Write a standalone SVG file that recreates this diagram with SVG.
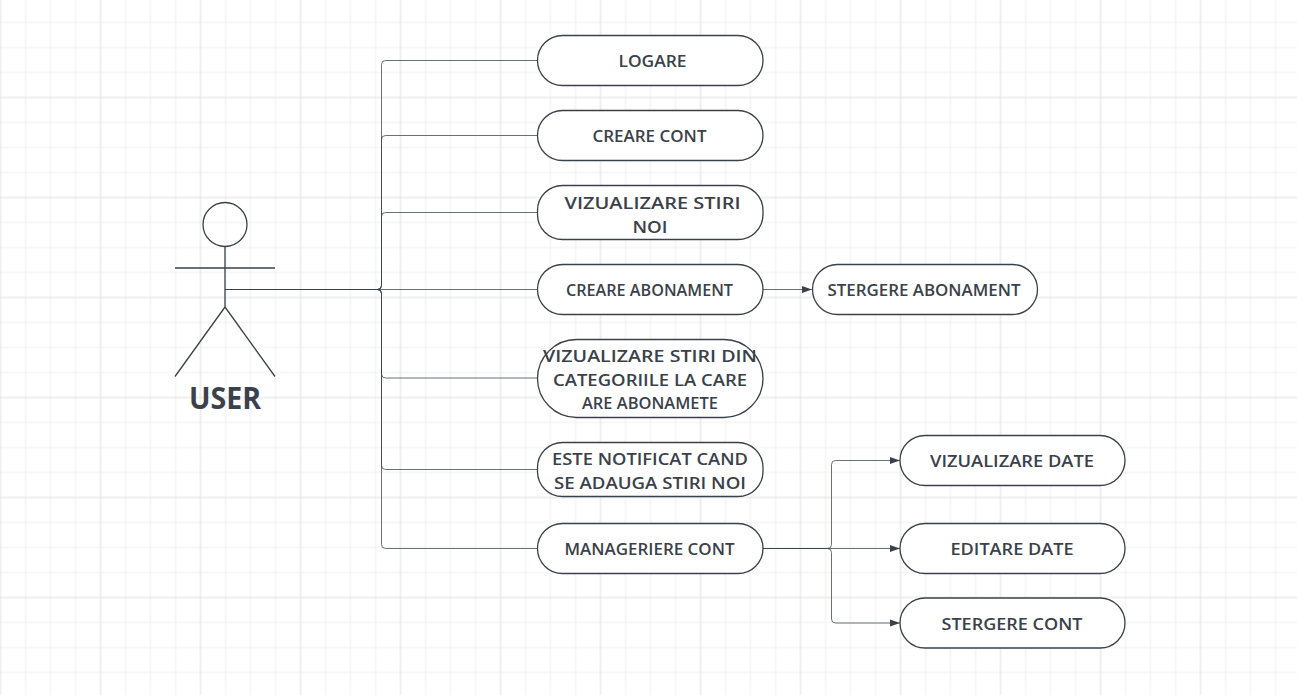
<svg xmlns="http://www.w3.org/2000/svg" width="1297" height="695" viewBox="0 0 1297 695">
<style>
.n{fill:#fff;stroke:#3a414a;stroke-width:1.3}
.c{fill:none;stroke:#3a414a;stroke-width:1;stroke-opacity:.75}
.t{font-family:"Open Sans","Liberation Sans",sans-serif;font-size:16.5px;font-weight:600;fill:#3a414a;text-anchor:middle}
.a{fill:none;stroke:#3a414a;stroke-width:1.3}
</style>
<defs>
<pattern id="g" width="100" height="100" x="40.500" y="37.500" patternUnits="userSpaceOnUse">
<path d="M10 0V100M35 0V100M85 0V100M0 10H100M0 35H100M0 85H100" fill="none" stroke="#efefef" stroke-width="1"/>
<path d="M60 0V100M0 60H100" fill="none" stroke="#dedede" stroke-width="1"/>
</pattern>
<marker id="m" markerWidth="10" markerHeight="8" refX="10" refY="4" orient="auto" markerUnits="userSpaceOnUse"><path d="M0 .5L10 4L0 7.500Z" fill="#3a414a"/></marker>
</defs>
<rect width="1297" height="695" fill="#fff"/>
<rect width="1297" height="695" fill="url(#g)"/>
<g id="connectors">
<path class="c" d="M225 289.500H377.500Q381.500 289.500 381.500 285.500V64.500Q381.500 60.500 385.500 60.500H537.500"/>
<path class="c" d="M225 289.500H377.500Q381.500 289.500 381.500 285.500V139.500Q381.500 135.500 385.500 135.500H537.500"/>
<path class="c" d="M225 289.500H377.500Q381.500 289.500 381.500 285.500V216.500Q381.500 212.500 385.500 212.500H537.500"/>
<path class="c" d="M225 289.500H537.500"/>
<path class="c" d="M225 289.500H377.500Q381.500 289.500 381.500 293.500V374Q381.500 378 385.500 378H537.500"/>
<path class="c" d="M225 289.500H377.500Q381.500 289.500 381.500 293.500V465.500Q381.500 469.500 385.500 469.500H537.500"/>
<path class="c" d="M225 289.500H377.500Q381.500 289.500 381.500 293.500V544.500Q381.500 548.500 385.500 548.500H537.500"/>
<path class="c" d="M763 289.500H812" marker-end="url(#m)"/>
<path class="c" d="M763 548.500H827.500Q831.500 548.500 831.500 544.500V464.500Q831.500 460.500 835.500 460.500H900" marker-end="url(#m)"/>
<path class="c" d="M763 548.500H900" marker-end="url(#m)"/>
<path class="c" d="M763 548.500H827.500Q831.500 548.500 831.500 552.500V619Q831.500 623 835.500 623H900" marker-end="url(#m)"/>
</g>
<g id="actor-user">
<circle class="a" cx="225" cy="224.500" r="22"/>
<path class="a" d="M225 246.500V307M175 268H275M225 307L175 376.500M225 307L275 376.500"/>
<text x="225" y="409" style="font-family:'Open Sans','Liberation Sans',sans-serif;font-size:30px;font-weight:700;fill:#3a414a;text-anchor:middle" textLength="72" lengthAdjust="spacingAndGlyphs">USER</text>
</g>
<g id="node-logare"><rect class="n" x="537.500" y="35.500" width="225.500" height="50" rx="25"/><text class="t" x="652.500" y="67" textLength="68" lengthAdjust="spacingAndGlyphs">LOGARE</text></g>
<g id="node-creare-cont"><rect class="n" x="537.500" y="110.500" width="225.500" height="50" rx="25"/><text class="t" x="649.500" y="142" textLength="114" lengthAdjust="spacingAndGlyphs">CREARE CONT</text></g>
<g id="node-vizualizare-stiri-noi"><rect class="n" x="537.500" y="185.500" width="225.500" height="54" rx="25"/><text class="t" x="652.500" y="209" textLength="176" lengthAdjust="spacingAndGlyphs">VIZUALIZARE STIRI</text><text class="t" x="650" y="233" textLength="35" lengthAdjust="spacingAndGlyphs">NOI</text></g>
<g id="node-creare-abonament"><rect class="n" x="537.500" y="264.500" width="225.500" height="50" rx="25"/><text class="t" x="649.500" y="296" textLength="167" lengthAdjust="spacingAndGlyphs">CREARE ABONAMENT</text></g>
<g id="node-stergere-abonament"><rect class="n" x="812.500" y="264.500" width="225" height="50" rx="25"/><text class="t" x="924" y="296" textLength="193" lengthAdjust="spacingAndGlyphs">STERGERE ABONAMENT</text></g>
<g id="node-vizualizare-stiri-din"><rect class="n" x="537.500" y="339.500" width="225.500" height="78" rx="39"/><text class="t" x="650" y="362" textLength="214" lengthAdjust="spacingAndGlyphs">VIZUALIZARE STIRI DIN</text><text class="t" x="650" y="386" textLength="194" lengthAdjust="spacingAndGlyphs">CATEGORIILE LA CARE</text><text class="t" x="650" y="409" textLength="136" lengthAdjust="spacingAndGlyphs">ARE ABONAMETE</text></g>
<g id="node-este-notificat"><rect class="n" x="537.500" y="442.500" width="225.500" height="54" rx="25"/><text class="t" x="650" y="465" textLength="196" lengthAdjust="spacingAndGlyphs">ESTE NOTIFICAT CAND</text><text class="t" x="650" y="489" textLength="192" lengthAdjust="spacingAndGlyphs">SE ADAUGA STIRI NOI</text></g>
<g id="node-manageriere-cont"><rect class="n" x="537.500" y="523.500" width="225.500" height="50" rx="25"/><text class="t" x="649.500" y="555" textLength="170" lengthAdjust="spacingAndGlyphs">MANAGERIERE CONT</text></g>
<g id="node-vizualizare-date"><rect class="n" x="900" y="435.500" width="225" height="50" rx="25"/><text class="t" x="1012" y="467" textLength="164" lengthAdjust="spacingAndGlyphs">VIZUALIZARE DATE</text></g>
<g id="node-editare-date"><rect class="n" x="900" y="523.500" width="225" height="50" rx="25"/><text class="t" x="1012" y="555" textLength="123" lengthAdjust="spacingAndGlyphs">EDITARE DATE</text></g>
<g id="node-stergere-cont"><rect class="n" x="900" y="598" width="225" height="50" rx="25"/><text class="t" x="1012" y="630" textLength="141" lengthAdjust="spacingAndGlyphs">STERGERE CONT</text></g>
</svg>
